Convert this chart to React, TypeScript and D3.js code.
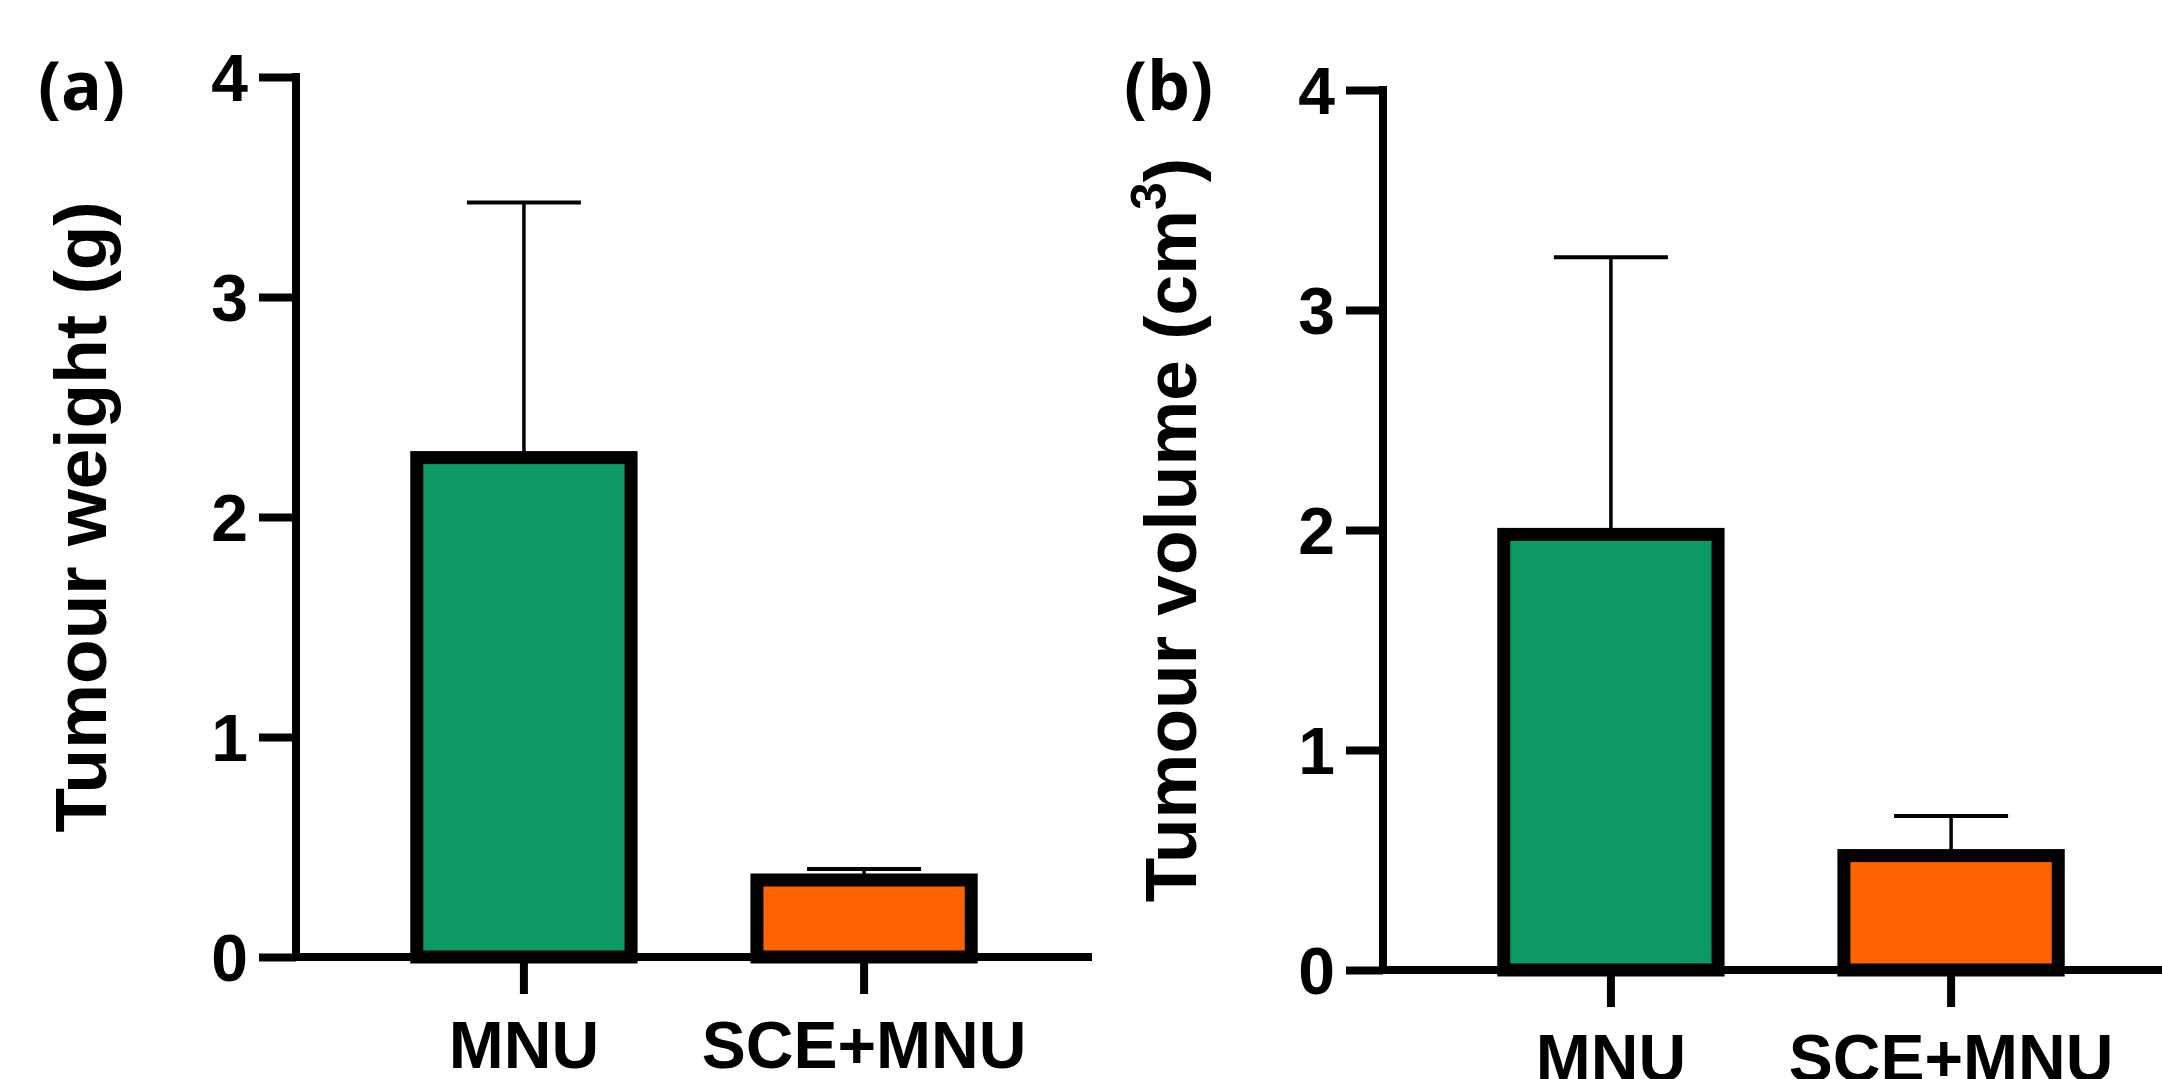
import { useRef, useEffect } from 'react';
import * as d3 from 'd3';

const groups = ['MNU', 'SCE+MNU'];
const barColors = ['#0c9963', '#ff6200'];
const yTicks = [0, 1, 2, 3, 4];

// panel (a) tumour weight, g
const weightMean = [2.27, 0.35];
const weightErr = [1.16, 0.05];

// panel (b) tumour volume, cm3
const volumeMean = [1.98, 0.52];
const volumeErr = [1.26, 0.18];

const W = 2162;
const H = 1079;
const FONT = '"Liberation Sans", Arial, sans-serif';

export default function App() {
  const svgRef = useRef<SVGSVGElement | null>(null);

  useEffect(() => {
    document.body.style.margin = '0';
    if (!svgRef.current) return;
    const svg = d3.select(svgRef.current);
    svg.selectAll('*').remove();

    const panels = [
      { tag: '(a)', tagX: 38, left: 296, top: 77, titleX: 106, title: 'Tumour weight (g)', sup: '', mean: weightMean, err: weightErr },
      { tag: '(b)', tagX: 1124, left: 1383, top: 90, titleX: 1196, title: 'Tumour volume (cm', sup: '3', mean: volumeMean, err: volumeErr },
    ];

    const innerH = 880;
    const axisW = 796;

    panels.forEach((p) => {
      const y = d3.scaleLinear().domain([0, 4]).range([innerH, 0]);
      const x = d3.scaleBand<string>().domain(groups).range([0, axisW]).paddingInner(0.37).paddingOuter(0.355);

      const g = svg.append('g').attr('transform', `translate(${p.left},${p.top})`);

      // error bars (upper only)
      groups.forEach((grp, i) => {
        const cx = (x(grp) || 0) + x.bandwidth() / 2;
        const top = y(p.mean[i] + p.err[i]);
        g.append('line')
          .attr('x1', cx).attr('x2', cx)
          .attr('y1', y(p.mean[i])).attr('y2', top)
          .attr('stroke', '#000').attr('stroke-width', 3.5);
        g.append('line')
          .attr('x1', cx - 57).attr('x2', cx + 57)
          .attr('y1', top).attr('y2', top)
          .attr('stroke', '#000').attr('stroke-width', 4);
      });

      // bars
      g.selectAll('rect.bar')
        .data(groups)
        .join('rect')
        .attr('class', 'bar')
        .attr('x', (d) => x(d) || 0)
        .attr('width', x.bandwidth())
        .attr('y', (d, i) => y(p.mean[i]))
        .attr('height', (d, i) => y(0) - y(p.mean[i]))
        .attr('fill', (d, i) => barColors[i])
        .attr('stroke', '#000')
        .attr('stroke-width', 13);

      // y axis
      g.append('g')
        .call(d3.axisLeft(y).tickValues(yTicks).tickSize(37).tickSizeOuter(0).tickPadding(11).tickFormat(d3.format('d')))
        .call((a) => {
          a.select('.domain').remove();
          a.selectAll('line').attr('stroke', '#000').attr('stroke-width', 8);
          a.selectAll('text')
            .attr('fill', '#000')
            .attr('font-family', FONT)
            .attr('font-weight', 'bold')
            .attr('font-size', 66)
            .attr('dy', '0.36em');
        });
      g.append('line')
        .attr('x1', 0).attr('x2', 0)
        .attr('y1', y(4) - 4).attr('y2', y(0) + 4)
        .attr('stroke', '#000').attr('stroke-width', 8);

      // x axis
      g.append('g')
        .attr('transform', `translate(0,${innerH})`)
        .call(d3.axisBottom(x).tickSize(37).tickSizeOuter(0).tickPadding(27))
        .call((a) => {
          a.select('.domain').remove();
          a.selectAll('line').attr('stroke', '#000').attr('stroke-width', 8);
          a.selectAll('text')
            .attr('fill', '#000')
            .attr('font-family', FONT)
            .attr('font-weight', 'bold')
            .attr('font-size', 66);
        });
      g.append('line')
        .attr('x1', -4).attr('x2', axisW)
        .attr('y1', y(0)).attr('y2', y(0))
        .attr('stroke', '#000').attr('stroke-width', 8);

      // axis title
      const t = svg.append('text')
        .attr('transform', `translate(${p.titleX},${p.top + innerH / 2}) rotate(-90)`)
        .attr('text-anchor', 'middle')
        .attr('font-family', FONT)
        .attr('font-weight', 'bold')
        .attr('font-size', 73)
        .attr('fill', '#000');
      t.append('tspan').text(p.title);
      if (p.sup) {
        t.append('tspan').attr('dy', -30).attr('font-size', 50).text(p.sup);
        t.append('tspan').attr('dy', 30).text(')');
      }

      // panel tag
      svg.append('text')
        .attr('x', p.tagX)
        .attr('y', 110)
        .attr('font-family', '"Open Sans", sans-serif')
        .attr('font-weight', 'bold')
        .attr('font-size', 68)
        .attr('fill', '#000')
        .text(p.tag);
    });
  }, []);

  return (
    <svg ref={svgRef} width={W} height={H} style={{ display: 'block', background: '#fff' }} />
  );
}
